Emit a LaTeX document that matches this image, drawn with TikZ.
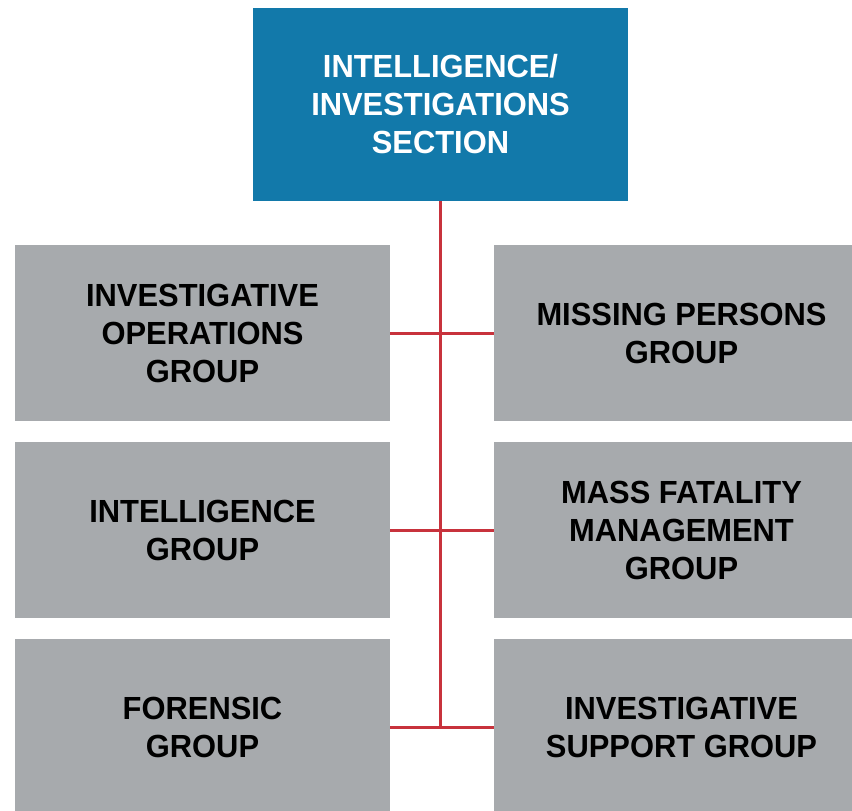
\documentclass[tikz,border=0pt]{standalone}
\usepackage{fontspec}
\setmainfont{Liberation Sans}[FakeStretch=0.965]
\definecolor{secblue}{HTML}{1279AA}
\definecolor{grpgray}{HTML}{A7AAAD}
\definecolor{linkred}{HTML}{C8323C}

\begin{document}
\begin{tikzpicture}[x=1pt,y=-1pt]
            \tikzstyle{s}=[rectangle,fill=secblue,text=white,minimum width=375pt,minimum height=193pt,inner sep=0pt,align=center,font={\fontsize{32}{38}\selectfont\bfseries}]
            \tikzstyle{g}=[rectangle,fill=grpgray,text=black,minimum width=375pt,minimum height=176pt,inner sep=0pt,align=center,font={\fontsize{32}{38}\selectfont\bfseries}]
            \tikzstyle{l}=[linkred,line width=3pt]

            \useasboundingbox (0,0) rectangle (852,811);
            \clip (0,0) rectangle (852,811);

            \node [s] (sec) at (440.5,104.5) {INTELLIGENCE/\\INVESTIGATIONS\\SECTION};

            \node [g] (iog) at (202.5,333) {INVESTIGATIVE\\OPERATIONS\\GROUP};
            \node [g] (ig) at (202.5,530) {INTELLIGENCE\\GROUP};
            \node [g] (fg) at (202.5,727) {FORENSIC\\GROUP};
            \node [g] (mpg) at (681.5,333) {MISSING PERSONS\\GROUP};
            \node [g] (mfg) at (681.5,530) {MASS FATALITY\\MANAGEMENT\\GROUP};
            \node [g] (isg) at (681.5,727) {INVESTIGATIVE\\SUPPORT GROUP};

            \draw [l] (sec.south) -- (sec.south |- fg.east);
            \draw [l] (iog.east) -- (mpg.west);
            \draw [l] (ig.east) -- (mfg.west);
            \draw [l] (fg.east) -- (isg.west);
        \end{tikzpicture}
\end{document}
